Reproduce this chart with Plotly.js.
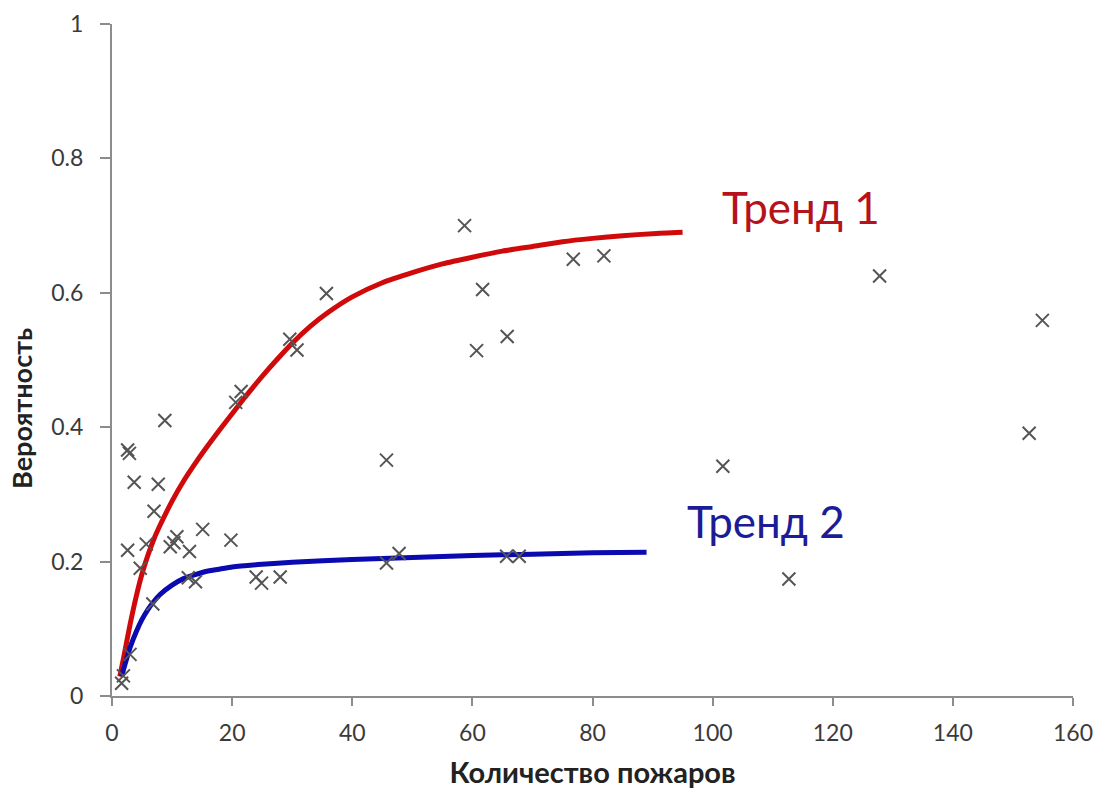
<!DOCTYPE html>
<html>
<head>
<meta charset="utf-8">
<script src="https://cdn.plot.ly/plotly-3.0.1.min.js"></script>
<style>html,body{margin:0;padding:0;background:#fff;}#chart{width:1097px;height:791px;}</style>
</head>
<body>
<div id="chart"></div>
<script>
// Scatter observations
const firesX = [58.7, 35.7, 29.6, 30.8, 21.5, 20.6, 61.7, 60.7, 65.8, 76.8, 81.9, 127.8, 154.9, 152.7, 101.7, 112.7,
  45.7, 45.7, 47.8, 65.7, 67.8, 19.8, 15.1, 24.0, 24.9, 28.0, 8.8, 2.6, 2.9, 3.7, 7.7, 7.0,
  2.6, 5.7, 4.7, 10.8, 9.7, 10.3, 12.9, 12.7, 13.9, 6.8, 3.0, 1.6, 1.9];
const probY = [0.700, 0.599, 0.531, 0.515, 0.453, 0.437, 0.605, 0.514, 0.535, 0.650, 0.655, 0.625, 0.559, 0.391, 0.342, 0.174,
  0.351, 0.198, 0.212, 0.208, 0.208, 0.232, 0.248, 0.177, 0.168, 0.177, 0.410, 0.366, 0.361, 0.318, 0.315, 0.275,
  0.217, 0.226, 0.190, 0.237, 0.222, 0.228, 0.215, 0.176, 0.170, 0.137, 0.062, 0.019, 0.030];

// Trend 1 (red)
const trend1X = [1.3, 2, 3, 4, 5, 6, 7, 8, 10, 12, 14, 16, 18, 20, 22, 24, 26, 28, 30, 33, 36, 40, 45, 50, 55, 60, 65, 70, 75, 80, 85, 90, 95];
const trend1Y = [0.029, 0.060, 0.106, 0.147, 0.182, 0.210, 0.234, 0.254, 0.290, 0.321, 0.348, 0.373, 0.397, 0.420, 0.443, 0.465, 0.486, 0.506, 0.525, 0.550, 0.571, 0.594, 0.615, 0.630, 0.643, 0.653, 0.662, 0.669, 0.676, 0.681, 0.685, 0.688, 0.690];

// Trend 2 (blue)
const trend2X = [1.6, 2, 3, 4, 5, 6, 7, 8, 10, 12, 14, 16, 18, 20, 25, 30, 40, 50, 60, 70, 80, 89];
const trend2Y = [0.029, 0.042, 0.072, 0.095, 0.114, 0.129, 0.141, 0.151, 0.165, 0.175, 0.181, 0.186, 0.189, 0.192, 0.196, 0.199, 0.203, 0.206, 0.209, 0.211, 0.213, 0.214];

const xTicks = [0, 20, 40, 60, 80, 100, 120, 140, 160];
const yTicks = [0, 0.2, 0.4, 0.6, 0.8, 1];
const yTickText = ['0', '0.2', '0.4', '0.6', '0.8', '1'];

const labels = [
  {text: 'Тренд 1', x: 114.7, y: 0.727, color: '#b5121b'},
  {text: 'Тренд 2', x: 108.9, y: 0.260, color: '#1c1c96'}
];

const traces = [
  {x: trend1X, y: trend1Y, mode: 'lines', line: {color: '#d00a0a', width: 5, shape: 'spline', smoothing: 0.6}, hoverinfo: 'skip'},
  {x: trend2X, y: trend2Y, mode: 'lines', line: {color: '#0a0ab0', width: 5, shape: 'spline', smoothing: 0.6}, hoverinfo: 'skip'},
  {x: firesX, y: probY, mode: 'markers',
   marker: {symbol: 'x-thin-open', size: 13, color: '#555', line: {width: 2, color: '#555'}}}
];

const tickFont = {family: 'Lato, "Open Sans", sans-serif', size: 23, color: '#3a3a3a'};
const titleFont = {family: 'Lato, "Open Sans", sans-serif', size: 29, color: '#222'};

const layout = {
  width: 1097, height: 791,
  margin: {l: 112, r: 24, t: 24, b: 95},
  paper_bgcolor: '#fff', plot_bgcolor: '#fff',
  showlegend: false,
  xaxis: {
    range: [0, 160], tickvals: xTicks, ticktext: xTicks.map(String),
    showgrid: false, zeroline: false, showline: true, linecolor: '#8c8c8c', linewidth: 2,
    ticks: 'outside', ticklen: 8, tickwidth: 2, tickcolor: '#8c8c8c',
    ticklabelstandoff: 7,
    tickfont: tickFont,
    title: {text: '<b>Количество пожаров</b>', font: titleFont, standoff: 18}
  },
  yaxis: {
    range: [0, 1], tickvals: yTicks, ticktext: yTickText,
    showgrid: false, zeroline: false, showline: true, linecolor: '#8c8c8c', linewidth: 2,
    ticks: 'outside', ticklen: 10, tickwidth: 2, tickcolor: '#8c8c8c',
    ticklabelstandoff: 12,
    tickfont: tickFont
  },
  annotations: labels.map(l => ({
    x: l.x, y: l.y, xref: 'x', yref: 'y', text: l.text, showarrow: false,
    xanchor: 'center', yanchor: 'middle',
    font: {family: 'Lato, "Open Sans", sans-serif', size: 44, color: l.color}
  })).concat([{
    x: -0.0937, y: 0.4286, xref: 'paper', yref: 'paper', text: '<b>Вероятность</b>',
    showarrow: false, textangle: -90, xanchor: 'center', yanchor: 'middle',
    font: {family: 'Lato, "Open Sans", sans-serif', size: 27, color: '#222'}
  }])
};

Plotly.newPlot('chart', traces, layout, {displayModeBar: false, staticPlot: true});
</script>
</body>
</html>
